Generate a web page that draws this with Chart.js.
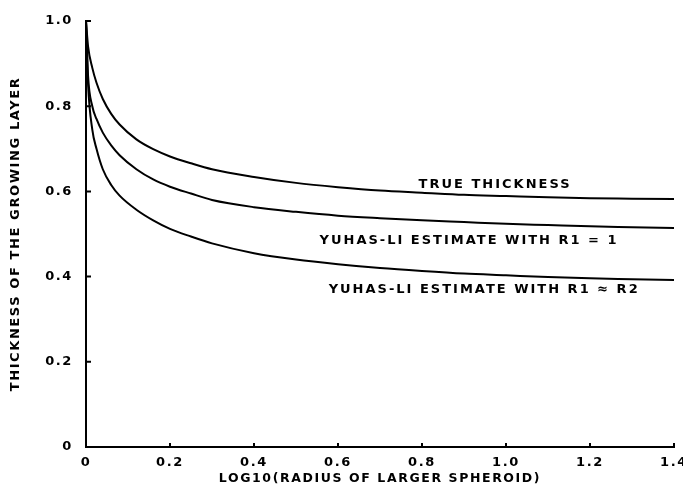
<!DOCTYPE html>
<html>
<head>
<meta charset="utf-8">
<script src="https://cdn.jsdelivr.net/npm/chart.js@4.4.1/dist/chart.umd.min.js"></script>
<style>
  html, body { margin: 0; padding: 0; background: #fff; }
  #wrap { width: 683px; height: 489px; }
</style>
</head>
<body>
<div id="wrap"><canvas id="chart"></canvas></div>
<script>
// log10(radius of larger spheroid)
const xValues = [0, 0.005, 0.015, 0.025, 0.04, 0.06, 0.08, 0.12, 0.16, 0.2, 0.25, 0.3, 0.4, 0.5, 0.6, 0.7, 0.8, 0.9, 1.0, 1.1, 1.2, 1.3, 1.4];

const trueThickness = [1.0, 0.94, 0.89, 0.855, 0.817, 0.782, 0.757, 0.722, 0.699, 0.682, 0.666, 0.652, 0.634, 0.620, 0.610, 0.602, 0.597, 0.592, 0.589, 0.586, 0.584, 0.583, 0.582];
const estimateR1Is1 = [1.0, 0.87, 0.80, 0.77, 0.738, 0.708, 0.685, 0.652, 0.628, 0.611, 0.595, 0.580, 0.563, 0.552, 0.543, 0.537, 0.532, 0.528, 0.524, 0.521, 0.518, 0.516, 0.514];
const estimateR1NearR2 = [1.0, 0.85, 0.745, 0.70, 0.652, 0.615, 0.590, 0.557, 0.532, 0.512, 0.494, 0.478, 0.455, 0.440, 0.429, 0.420, 0.413, 0.407, 0.403, 0.399, 0.396, 0.394, 0.392];

const xTicks = [0, 0.2, 0.4, 0.6, 0.8, 1.0, 1.2, 1.4];
const yTicks = [0, 0.2, 0.4, 0.6, 0.8, 1.0];

const curveLabels = [
    { text: 'TRUE THICKNESS', x: 0.974, y: 0.617 },
    { text: 'YUHAS-LI ESTIMATE WITH R1 = 1', x: 0.912, y: 0.484 },
    { text: 'YUHAS-LI ESTIMATE WITH R1 \u2248 R2', x: 0.948, y: 0.369 }
];

const FONT = '"DejaVu Sans", sans-serif';

function toPoints(ys) {
    return ys.map((y, i) => ({ x: xValues[i], y }));
}

function lineSet(label, ys) {
    return {
        label,
        data: toPoints(ys),
        borderColor: '#000',
        borderWidth: 2,
        pointRadius: 0,
        fill: false,
        cubicInterpolationMode: 'monotone'
    };
}

function spacing(chart) {
    chart.ctx.letterSpacing = '1.6px';
}

// wide plotter-like lettering, inward tick marks and the curve labels
const decorations = {
    id: 'decorations',
    beforeUpdate: spacing,
    beforeLayout: spacing,
    beforeDraw: spacing,
    afterDraw(chart) {
        const ctx = chart.ctx;
        const xs = chart.scales.x;
        const ys = chart.scales.y;
        ctx.save();
        ctx.strokeStyle = '#000';
        ctx.lineWidth = 2;
        ctx.beginPath();
        xTicks.forEach(v => {
            const px = xs.getPixelForValue(v);
            ctx.moveTo(px, ys.bottom);
            ctx.lineTo(px, ys.bottom - 4);
        });
        yTicks.forEach(v => {
            const py = ys.getPixelForValue(v);
            ctx.moveTo(xs.left, py);
            ctx.lineTo(xs.left + 5, py);
        });
        ctx.stroke();

        ctx.fillStyle = '#000';
        ctx.letterSpacing = '2px';
        ctx.font = 'bold 13px ' + FONT;
        ctx.textAlign = 'center';
        ctx.textBaseline = 'middle';
        curveLabels.forEach(l => {
            ctx.fillText(l.text, xs.getPixelForValue(l.x), ys.getPixelForValue(l.y));
        });
        ctx.restore();
    }
};

new Chart(document.getElementById('chart'), {
    type: 'line',
    data: {
        datasets: [
            lineSet('True thickness', trueThickness),
            lineSet('Yuhas-Li estimate with R1 = 1', estimateR1Is1),
            lineSet('Yuhas-Li estimate with R1 \u2248 R2', estimateR1NearR2)
        ]
    },
    options: {
        responsive: true,
        maintainAspectRatio: false,
        animation: false,
        layout: { padding: { top: 21, right: 9, left: 6, bottom: 0 } },
        plugins: {
            legend: { display: false },
            tooltip: { enabled: false }
        },
        scales: {
            x: {
                type: 'linear',
                min: 0,
                max: 1.4,
                afterBuildTicks: axis => { axis.ticks = xTicks.map(v => ({ value: v })); },
                afterFit: axis => {
                    axis.height = 42;
                    axis.paddingLeft = 0;
                    axis.paddingRight = 0;
                },
                grid: { display: false, drawTicks: false },
                border: { display: true, color: '#000', width: 2 },
                ticks: {
                    color: '#000',
                    padding: 8,
                    maxRotation: 0,
                    font: { family: FONT, size: 13, weight: 'bold' },
                    callback: v => v === 0 ? '0' : v.toFixed(1)
                },
                title: {
                    display: true,
                    text: 'LOG10(RADIUS OF LARGER SPHEROID)',
                    color: '#000',
                    padding: { top: 0, bottom: 3 },
                    font: { family: FONT, size: 12.5, weight: 'bold' }
                }
            },
            y: {
                type: 'linear',
                min: 0,
                max: 1.0,
                afterBuildTicks: axis => { axis.ticks = yTicks.map(v => ({ value: v })); },
                afterFit: axis => {
                    axis.width = 80;
                    axis.paddingTop = 0;
                    axis.paddingBottom = 0;
                },
                grid: { display: false, drawTicks: false },
                border: { display: true, color: '#000', width: 2 },
                ticks: {
                    color: '#000',
                    padding: 13,
                    font: { family: FONT, size: 13, weight: 'bold' },
                    callback: v => v === 0 ? '0' : v.toFixed(1)
                },
                title: {
                    display: true,
                    text: 'THICKNESS OF THE GROWING LAYER',
                    color: '#000',
                    padding: { top: 2, bottom: 0 },
                    font: { family: FONT, size: 13, weight: 'bold' }
                }
            }
        }
    },
    plugins: [decorations]
});
</script>
</body>
</html>
